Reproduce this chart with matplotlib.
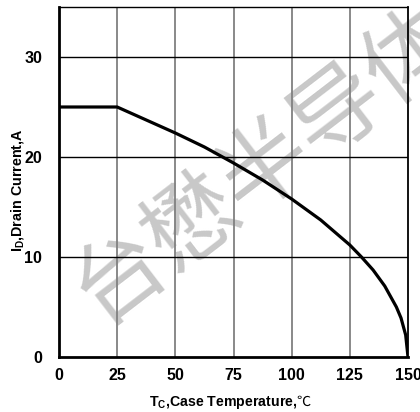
import matplotlib
matplotlib.use("Agg")
import matplotlib.pyplot as plt

# Data
temps = [0, 25, 37.5, 50, 62.5, 75, 87.5, 100, 112.5, 125, 130, 135, 140, 145, 147, 149, 150]
current = [25, 25, 23.7, 22.4, 21.0, 19.4, 17.7, 15.8, 13.7, 11.2, 10.0, 8.7, 7.1, 5.0, 3.9, 2.2, 0]
x_ticks = [0, 25, 50, 75, 100, 125, 150]
y_ticks = [0, 10, 20, 30]
watermark = "台懋半导体"
xlabel_main = r'T$_{\mathbf{C}}$,Case Temperature,'
xlabel_unit = '℃'
ylabel = r'I$_{\mathbf{D}}$,Drain Current,A'

plt.rcParams['font.family'] = ['Liberation Sans', 'Noto Sans CJK SC', 'DejaVu Sans']
plt.rcParams['mathtext.fontset'] = 'custom'
plt.rcParams['mathtext.rm'] = 'Liberation Sans:bold'
plt.rcParams['mathtext.bf'] = 'Liberation Sans:bold'
plt.rcParams['mathtext.default'] = 'bf'

W, H = 420, 412
fig = plt.figure(figsize=(W / 100, H / 100), dpi=100)
ax = fig.add_axes([59 / W, (H - 357) / H, (408 - 59) / W, (357 - 7) / H])

ax.set_xlim(0, 150)
ax.set_ylim(0, 35)
ax.set_xticks(x_ticks)
ax.set_yticks(y_ticks)
ax.set_xticklabels([str(v) for v in x_ticks], fontsize=11.5, fontweight='bold')
ax.set_yticklabels([str(v) for v in y_ticks], fontsize=11.5, fontweight='bold')
ax.tick_params(length=0, pad=8)
ax.tick_params(axis='y', pad=12)

for v in x_ticks[1:-1]:
    ax.axvline(v, color='#808080', lw=1.3, zorder=1.5)
for v in y_ticks[1:]:
    ax.axhline(v, color='black', lw=1.0, zorder=1.5)

ax.plot(temps, current, color='black', lw=2.3, zorder=3, solid_joinstyle='round')

ax.spines['left'].set_linewidth(2.0)
ax.spines['bottom'].set_linewidth(2.0)
ax.spines['right'].set_linewidth(1.3)
ax.spines['top'].set_linewidth(1.0)
ax.spines['top'].set_linestyle((0, (1, 1)))

# y label
ax.set_ylabel(ylabel, fontsize=10.3, fontweight='bold')
ax.yaxis.set_label_coords((26 - 59) / (408 - 59), (357 - 190) / 350)

# x label composed of two texts so that the degree-Celsius sign can use a CJK font
renderer = fig.canvas.get_renderer()
t1 = fig.text(0, 6 / H, xlabel_main, fontsize=10.2, fontweight='bold', va='baseline', ha='left')
t2 = fig.text(0, 6 / H, xlabel_unit, fontsize=10.2, va='baseline', ha='left',
              family=['Noto Sans CJK SC', 'DejaVu Sans'])
w1 = t1.get_window_extent(renderer).width
w2 = t2.get_window_extent(renderer).width
cx = 230.0
start = cx - (w1 + w2) / 2
t1.set_x(start / W)
t2.set_x((start + w1 - 1) / W)

ax.text(0.59, 0.55, watermark, transform=ax.transAxes, rotation=37.5,
        fontsize=66, color='#c8c8c8', ha='center', va='center',
        family=['Noto Sans CJK SC', 'DejaVu Sans'], zorder=0.8, clip_on=False,
        rotation_mode='anchor')

fig.savefig('out.png', dpi=100)
